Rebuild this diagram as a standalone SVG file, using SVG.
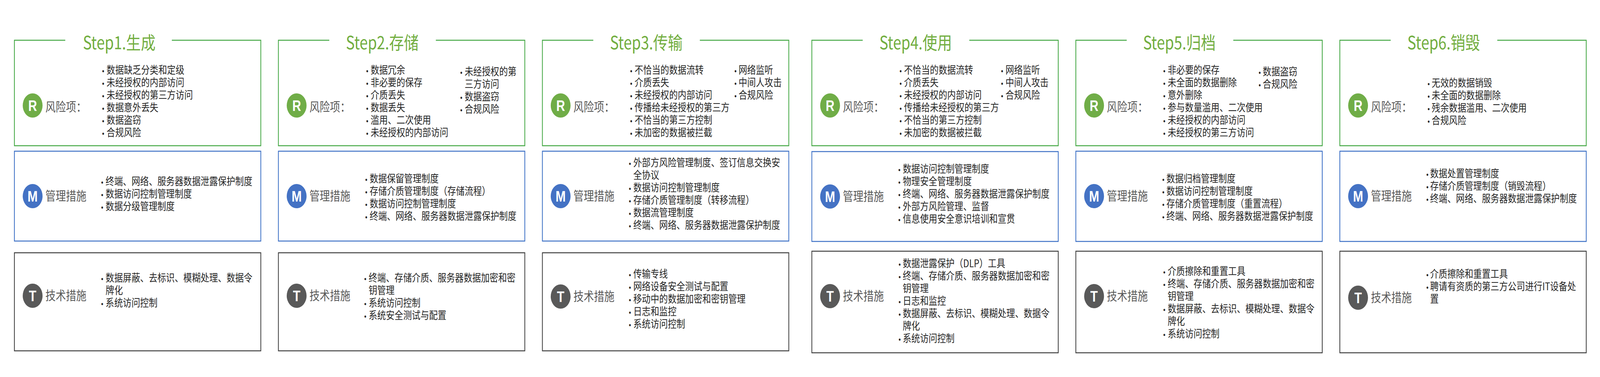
<svg xmlns="http://www.w3.org/2000/svg" width="5000" height="965" viewBox="0 0 5000 965" preserveAspectRatio="none">
<style>
:root{width:100vw;height:100vh;}
.hdr{font-family:"Noto Sans CJK SC","Noto Sans",sans-serif;font-size:46px;fill:#72AE40;}
.lbl{font-family:"Noto Sans CJK SC","Noto Sans",sans-serif;font-size:32px;fill:#595959;}
.b{font-family:"Noto Sans CJK SC","Noto Sans",sans-serif;font-size:27px;fill:#262626;}
.dot{font-family:"Liberation Sans",sans-serif;font-size:20px;}
.ic{font-family:"Liberation Sans",sans-serif;font-size:38px;font-weight:bold;fill:#FFFFFF;text-anchor:middle;}
.rb{fill:none;stroke:#45A845;stroke-width:2.5;}
.mb{fill:none;stroke:#3F72C6;stroke-width:2.5;}
.tb{fill:none;stroke:#404040;stroke-width:2.5;}
.rc{fill:#70AD47;}
.mc{fill:#4472C4;}
.tc{fill:#595959;}
</style>
<rect width="5000" height="965" fill="#FFFFFF"/>
<g id="connectors"/>

<!-- Step 1 -->
<g id="step1" transform="translate(45,0)">
<g id="step1-risk">
<path class="rb" d="M159,103 H0 V373 H770 V103 H492"/>
<text class="hdr" x="214" y="126">Step1.生成</text>
<circle class="rc" cx="57" cy="270" r="31"/><text class="ic" x="57" y="284">R</text>
<text class="lbl" x="97" y="285">风险项：</text>
<text class="b" y="189"><tspan class="dot" x="274">•</tspan><tspan x="288">数据缺乏分类和定级</tspan></text>
<text class="b" y="221"><tspan class="dot" x="274">•</tspan><tspan x="288">未经授权的内部访问</tspan></text>
<text class="b" y="253"><tspan class="dot" x="274">•</tspan><tspan x="288">未经授权的第三方访问</tspan></text>
<text class="b" y="285"><tspan class="dot" x="274">•</tspan><tspan x="288">数据意外丢失</tspan></text>
<text class="b" y="317"><tspan class="dot" x="274">•</tspan><tspan x="288">数据盗窃</tspan></text>
<text class="b" y="349"><tspan class="dot" x="274">•</tspan><tspan x="288">合规风险</tspan></text>
</g>
<g id="step1-mgmt">
<rect class="mb" x="0" y="387" width="770" height="230"/>
<circle class="mc" cx="57" cy="502" r="31"/><text class="ic" x="57" y="516">M</text>
<text class="lbl" x="97" y="513">管理措施</text>
<text class="b" y="474"><tspan class="dot" x="271">•</tspan><tspan x="285">终端、网络、服务器数据泄露保护制度</tspan></text>
<text class="b" y="506"><tspan class="dot" x="271">•</tspan><tspan x="285">数据访问控制管理制度</tspan></text>
<text class="b" y="538"><tspan class="dot" x="271">•</tspan><tspan x="285">数据分级管理制度</tspan></text>
</g>
<g id="step1-tech">
<rect class="tb" x="0" y="647" width="770" height="251"/>
<circle class="tc" cx="57" cy="757" r="31"/><text class="ic" x="57" y="771">T</text>
<text class="lbl" x="97" y="768">技术措施</text>
<text class="b" y="721"><tspan class="dot" x="271">•</tspan><tspan x="285">数据屏蔽、去标识、模糊处理、数据令</tspan></text>
<text class="b" x="285" y="753">牌化</text>
<text class="b" y="785"><tspan class="dot" x="271">•</tspan><tspan x="285">系统访问控制</tspan></text>
</g>
</g>

<!-- Step 2 -->
<g id="step2" transform="translate(870,0)">
<g id="step2-risk">
<path class="rb" d="M159,103 H0 V373 H770 V103 H492"/>
<text class="hdr" x="211" y="126">Step2.存储</text>
<circle class="rc" cx="57" cy="270" r="31"/><text class="ic" x="57" y="284">R</text>
<text class="lbl" x="97" y="285">风险项：</text>
<text class="b" y="189"><tspan class="dot" x="274">•</tspan><tspan x="288">数据冗余</tspan></text>
<text class="b" y="221"><tspan class="dot" x="274">•</tspan><tspan x="288">非必要的保存</tspan></text>
<text class="b" y="253"><tspan class="dot" x="274">•</tspan><tspan x="288">介质丢失</tspan></text>
<text class="b" y="285"><tspan class="dot" x="274">•</tspan><tspan x="288">数据丢失</tspan></text>
<text class="b" y="317"><tspan class="dot" x="274">•</tspan><tspan x="288">滥用、二次使用</tspan></text>
<text class="b" y="349"><tspan class="dot" x="274">•</tspan><tspan x="288">未经授权的内部访问</tspan></text>
<text class="b" y="193"><tspan class="dot" x="568">•</tspan><tspan x="582">未经授权的第</tspan></text>
<text class="b" x="582" y="225">三方访问</text>
<text class="b" y="257"><tspan class="dot" x="568">•</tspan><tspan x="582">数据盗窃</tspan></text>
<text class="b" y="289"><tspan class="dot" x="568">•</tspan><tspan x="582">合规风险</tspan></text>
</g>
<g id="step2-mgmt">
<rect class="mb" x="0" y="387" width="770" height="230"/>
<circle class="mc" cx="57" cy="502" r="31"/><text class="ic" x="57" y="516">M</text>
<text class="lbl" x="97" y="513">管理措施</text>
<text class="b" y="467"><tspan class="dot" x="271">•</tspan><tspan x="285">数据保留管理制度</tspan></text>
<text class="b" y="499"><tspan class="dot" x="271">•</tspan><tspan x="285">存储介质管理制度（存储流程）</tspan></text>
<text class="b" y="531"><tspan class="dot" x="271">•</tspan><tspan x="285">数据访问控制管理制度</tspan></text>
<text class="b" y="563"><tspan class="dot" x="271">•</tspan><tspan x="285">终端、网络、服务器数据泄露保护制度</tspan></text>
</g>
<g id="step2-tech">
<rect class="tb" x="0" y="647" width="770" height="251"/>
<circle class="tc" cx="57" cy="757" r="31"/><text class="ic" x="57" y="771">T</text>
<text class="lbl" x="97" y="768">技术措施</text>
<text class="b" y="721"><tspan class="dot" x="268">•</tspan><tspan x="282">终端、存储介质、服务器数据加密和密</tspan></text>
<text class="b" x="282" y="753">钥管理</text>
<text class="b" y="785"><tspan class="dot" x="268">•</tspan><tspan x="282">系统访问控制</tspan></text>
<text class="b" y="817"><tspan class="dot" x="268">•</tspan><tspan x="282">系统安全测试与配置</tspan></text>
</g>
</g>

<!-- Step 3 -->
<g id="step3" transform="translate(1695,0)">
<g id="step3-risk">
<path class="rb" d="M159,103 H0 V373 H770 V103 H492"/>
<text class="hdr" x="211" y="126">Step3.传输</text>
<circle class="rc" cx="57" cy="270" r="31"/><text class="ic" x="57" y="284">R</text>
<text class="lbl" x="97" y="285">风险项：</text>
<text class="b" y="189"><tspan class="dot" x="274">•</tspan><tspan x="288">不恰当的数据流转</tspan></text>
<text class="b" y="221"><tspan class="dot" x="274">•</tspan><tspan x="288">介质丢失</tspan></text>
<text class="b" y="253"><tspan class="dot" x="274">•</tspan><tspan x="288">未经授权的内部访问</tspan></text>
<text class="b" y="285"><tspan class="dot" x="274">•</tspan><tspan x="288">传播给未经授权的第三方</tspan></text>
<text class="b" y="317"><tspan class="dot" x="274">•</tspan><tspan x="288">不恰当的第三方控制</tspan></text>
<text class="b" y="349"><tspan class="dot" x="274">•</tspan><tspan x="288">未加密的数据被拦截</tspan></text>
<text class="b" y="189"><tspan class="dot" x="600">•</tspan><tspan x="613">网络监听</tspan></text>
<text class="b" y="221"><tspan class="dot" x="600">•</tspan><tspan x="613">中间人攻击</tspan></text>
<text class="b" y="253"><tspan class="dot" x="600">•</tspan><tspan x="613">合规风险</tspan></text>
</g>
<g id="step3-mgmt">
<rect class="mb" x="0" y="387" width="770" height="230"/>
<circle class="mc" cx="57" cy="502" r="31"/><text class="ic" x="57" y="516">M</text>
<text class="lbl" x="97" y="513">管理措施</text>
<text class="b" y="426"><tspan class="dot" x="270">•</tspan><tspan x="284">外部方风险管理制度、签订信息交换安</tspan></text>
<text class="b" x="284" y="458">全协议</text>
<text class="b" y="490"><tspan class="dot" x="270">•</tspan><tspan x="284">数据访问控制管理制度</tspan></text>
<text class="b" y="522"><tspan class="dot" x="270">•</tspan><tspan x="284">存储介质管理制度（转移流程）</tspan></text>
<text class="b" y="554"><tspan class="dot" x="270">•</tspan><tspan x="284">数据流管理制度</tspan></text>
<text class="b" y="586"><tspan class="dot" x="270">•</tspan><tspan x="284">终端、网络、服务器数据泄露保护制度</tspan></text>
</g>
<g id="step3-tech">
<rect class="tb" x="0" y="647" width="770" height="251"/>
<circle class="tc" cx="57" cy="759" r="31"/><text class="ic" x="57" y="773">T</text>
<text class="lbl" x="97" y="770">技术措施</text>
<text class="b" y="711"><tspan class="dot" x="270">•</tspan><tspan x="284">传输专线</tspan></text>
<text class="b" y="743"><tspan class="dot" x="270">•</tspan><tspan x="284">网络设备安全测试与配置</tspan></text>
<text class="b" y="775"><tspan class="dot" x="270">•</tspan><tspan x="284">移动中的数据加密和密钥管理</tspan></text>
<text class="b" y="807"><tspan class="dot" x="270">•</tspan><tspan x="284">日志和监控</tspan></text>
<text class="b" y="839"><tspan class="dot" x="270">•</tspan><tspan x="284">系统访问控制</tspan></text>
</g>
</g>

<!-- Step 4 -->
<g id="step4" transform="translate(2537,0)">
<g id="step4-risk">
<path class="rb" d="M159,103 H0 V373 H770 V103 H492"/>
<text class="hdr" x="211" y="126">Step4.使用</text>
<circle class="rc" cx="57" cy="270" r="31"/><text class="ic" x="57" y="284">R</text>
<text class="lbl" x="97" y="285">风险项：</text>
<text class="b" y="189"><tspan class="dot" x="274">•</tspan><tspan x="288">不恰当的数据流转</tspan></text>
<text class="b" y="221"><tspan class="dot" x="274">•</tspan><tspan x="288">介质丢失</tspan></text>
<text class="b" y="253"><tspan class="dot" x="274">•</tspan><tspan x="288">未经授权的内部访问</tspan></text>
<text class="b" y="285"><tspan class="dot" x="274">•</tspan><tspan x="288">传播给未经授权的第三方</tspan></text>
<text class="b" y="317"><tspan class="dot" x="274">•</tspan><tspan x="288">不恰当的第三方控制</tspan></text>
<text class="b" y="349"><tspan class="dot" x="274">•</tspan><tspan x="288">未加密的数据被拦截</tspan></text>
<text class="b" y="189"><tspan class="dot" x="591">•</tspan><tspan x="605">网络监听</tspan></text>
<text class="b" y="221"><tspan class="dot" x="591">•</tspan><tspan x="605">中间人攻击</tspan></text>
<text class="b" y="253"><tspan class="dot" x="591">•</tspan><tspan x="605">合规风险</tspan></text>
</g>
<g id="step4-mgmt">
<rect class="mb" x="0" y="388" width="770" height="230"/>
<circle class="mc" cx="57" cy="503" r="31"/><text class="ic" x="57" y="517">M</text>
<text class="lbl" x="97" y="514">管理措施</text>
<text class="b" y="442"><tspan class="dot" x="270">•</tspan><tspan x="284">数据访问控制管理制度</tspan></text>
<text class="b" y="474"><tspan class="dot" x="270">•</tspan><tspan x="284">物理安全管理制度</tspan></text>
<text class="b" y="506"><tspan class="dot" x="270">•</tspan><tspan x="284">终端、网络、服务器数据泄露保护制度</tspan></text>
<text class="b" y="538"><tspan class="dot" x="270">•</tspan><tspan x="284">外部方风险管理、监督</tspan></text>
<text class="b" y="570"><tspan class="dot" x="270">•</tspan><tspan x="284">信息使用安全意识培训和宣贯</tspan></text>
</g>
<g id="step4-tech">
<rect class="tb" x="0" y="643" width="770" height="260"/>
<circle class="tc" cx="57" cy="758" r="31"/><text class="ic" x="57" y="772">T</text>
<text class="lbl" x="97" y="769">技术措施</text>
<text class="b" y="684"><tspan class="dot" x="271">•</tspan><tspan x="284">数据泄露保护（DLP）工具</tspan></text>
<text class="b" y="716"><tspan class="dot" x="271">•</tspan><tspan x="284">终端、存储介质、服务器数据加密和密</tspan></text>
<text class="b" x="284" y="748">钥管理</text>
<text class="b" y="780"><tspan class="dot" x="271">•</tspan><tspan x="284">日志和监控</tspan></text>
<text class="b" y="812"><tspan class="dot" x="271">•</tspan><tspan x="284">数据屏蔽、去标识、模糊处理、数据令</tspan></text>
<text class="b" x="284" y="844">牌化</text>
<text class="b" y="876"><tspan class="dot" x="271">•</tspan><tspan x="284">系统访问控制</tspan></text>
</g>
</g>

<!-- Step 5 -->
<g id="step5" transform="translate(3362,0)">
<g id="step5-risk">
<path class="rb" d="M159,103 H0 V373 H770 V103 H492"/>
<text class="hdr" x="210" y="126">Step5.归档</text>
<circle class="rc" cx="57" cy="270" r="31"/><text class="ic" x="57" y="284">R</text>
<text class="lbl" x="97" y="285">风险项：</text>
<text class="b" y="189"><tspan class="dot" x="273">•</tspan><tspan x="287">非必要的保存</tspan></text>
<text class="b" y="221"><tspan class="dot" x="273">•</tspan><tspan x="287">未全面的数据删除</tspan></text>
<text class="b" y="253"><tspan class="dot" x="273">•</tspan><tspan x="287">意外删除</tspan></text>
<text class="b" y="285"><tspan class="dot" x="273">•</tspan><tspan x="287">参与数量滥用、二次使用</tspan></text>
<text class="b" y="317"><tspan class="dot" x="273">•</tspan><tspan x="287">未经授权的内部访问</tspan></text>
<text class="b" y="349"><tspan class="dot" x="273">•</tspan><tspan x="287">未经授权的第三方访问</tspan></text>
<text class="b" y="193"><tspan class="dot" x="571">•</tspan><tspan x="584">数据盗窃</tspan></text>
<text class="b" y="225"><tspan class="dot" x="571">•</tspan><tspan x="584">合规风险</tspan></text>
</g>
<g id="step5-mgmt">
<rect class="mb" x="0" y="387" width="770" height="231"/>
<circle class="mc" cx="57" cy="502" r="31"/><text class="ic" x="57" y="516">M</text>
<text class="lbl" x="97" y="513">管理措施</text>
<text class="b" y="467"><tspan class="dot" x="270">•</tspan><tspan x="283">数据归档管理制度</tspan></text>
<text class="b" y="499"><tspan class="dot" x="270">•</tspan><tspan x="283">数据访问控制管理制度</tspan></text>
<text class="b" y="531"><tspan class="dot" x="270">•</tspan><tspan x="283">存储介质管理制度（重置流程）</tspan></text>
<text class="b" y="563"><tspan class="dot" x="270">•</tspan><tspan x="283">终端、网络、服务器数据泄露保护制度</tspan></text>
</g>
<g id="step5-tech">
<rect class="tb" x="0" y="643" width="770" height="260"/>
<circle class="tc" cx="57" cy="758" r="31"/><text class="ic" x="57" y="772">T</text>
<text class="lbl" x="97" y="769">技术措施</text>
<text class="b" y="704"><tspan class="dot" x="273">•</tspan><tspan x="287">介质擦除和重置工具</tspan></text>
<text class="b" y="736"><tspan class="dot" x="273">•</tspan><tspan x="287">终端、存储介质、服务器数据加密和密</tspan></text>
<text class="b" x="287" y="768">钥管理</text>
<text class="b" y="800"><tspan class="dot" x="273">•</tspan><tspan x="287">数据屏蔽、去标识、模糊处理、数据令</tspan></text>
<text class="b" x="287" y="832">牌化</text>
<text class="b" y="864"><tspan class="dot" x="273">•</tspan><tspan x="287">系统访问控制</tspan></text>
</g>
</g>

<!-- Step 6 -->
<g id="step6" transform="translate(4187,0)">
<g id="step6-risk">
<path class="rb" d="M159,103 H0 V373 H770 V103 H492"/>
<text class="hdr" x="211" y="126">Step6.销毁</text>
<circle class="rc" cx="57" cy="270" r="31"/><text class="ic" x="57" y="284">R</text>
<text class="lbl" x="97" y="285">风险项：</text>
<text class="b" y="222"><tspan class="dot" x="274">•</tspan><tspan x="287">无效的数据销毁</tspan></text>
<text class="b" y="254"><tspan class="dot" x="274">•</tspan><tspan x="287">未全面的数据删除</tspan></text>
<text class="b" y="286"><tspan class="dot" x="274">•</tspan><tspan x="287">残余数据滥用、二次使用</tspan></text>
<text class="b" y="318"><tspan class="dot" x="274">•</tspan><tspan x="287">合规风险</tspan></text>
</g>
<g id="step6-mgmt">
<rect class="mb" x="0" y="387" width="770" height="231"/>
<circle class="mc" cx="57" cy="502" r="31"/><text class="ic" x="57" y="516">M</text>
<text class="lbl" x="97" y="513">管理措施</text>
<text class="b" y="454"><tspan class="dot" x="270">•</tspan><tspan x="282">数据处置管理制度</tspan></text>
<text class="b" y="486"><tspan class="dot" x="270">•</tspan><tspan x="282">存储介质管理制度（销毁流程）</tspan></text>
<text class="b" y="518"><tspan class="dot" x="270">•</tspan><tspan x="282">终端、网络、服务器数据泄露保护制度</tspan></text>
</g>
<g id="step6-tech">
<rect class="tb" x="0" y="643" width="770" height="260"/>
<circle class="tc" cx="57" cy="762" r="31"/><text class="ic" x="57" y="776">T</text>
<text class="lbl" x="97" y="773">技术措施</text>
<text class="b" y="711"><tspan class="dot" x="270">•</tspan><tspan x="282">介质擦除和重置工具</tspan></text>
<text class="b" y="743"><tspan class="dot" x="270">•</tspan><tspan x="282">聘请有资质的第三方公司进行IT设备处</tspan></text>
<text class="b" x="282" y="775">置</text>
</g>
</g>
</svg>
